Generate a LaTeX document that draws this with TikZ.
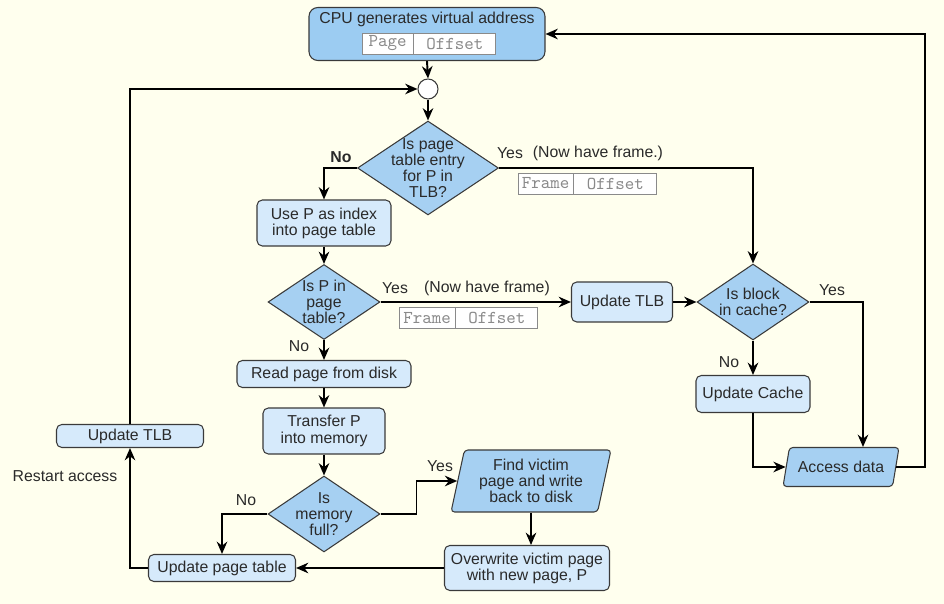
\documentclass[tikz,border=0pt]{standalone}
\usepackage{fontspec}
\setmainfont{Liberation Sans}
\usepackage{tikz}
\usetikzlibrary{calc,positioning,arrows.meta,shapes,backgrounds}
\definecolor{bgcream}{HTML}{FFFFEE}
\definecolor{boxblue}{HTML}{D6EAFB}
\definecolor{decblue}{HTML}{A6D0F2}
\definecolor{cpublue}{HTML}{9CCCF2}
\definecolor{linegray}{HTML}{3A3A3A}
\definecolor{fieldgray}{HTML}{8A8A8A}
\definecolor{txtgray}{HTML}{2A2A2A}

\begin{document}
\begin{tikzpicture}[x=0.02cm,y=-0.02cm,font=\fontsize{9}{9.2}\selectfont]
\tikzstyle{proc}=[rectangle, rounded corners=3pt, draw=linegray, fill=boxblue, align=center, inner sep=0pt, line width=0.6pt, text=txtgray]
\tikzstyle{dec}=[diamond, draw=linegray, fill=decblue, align=center, inner sep=-6pt, line width=0.6pt, text=txtgray]
\tikzstyle{io}=[trapezium, trapezium stretches body, draw=linegray, fill=decblue, align=center, rounded corners=2pt, inner sep=0pt, line width=0.6pt, text=txtgray]
\tikzstyle{fld}=[rectangle, draw=fieldgray, fill=white, font=\ttfamily\fontsize{10.3}{10.3}\selectfont, text=fieldgray, inner sep=0pt, minimum height=0.42cm, line width=0.5pt]
\tikzstyle{arr}=[-{Stealth[length=7pt,width=6pt]}, line width=1.1pt]
\tikzstyle{lbl}=[inner sep=0pt, text=txtgray]

% background and page size
\fill[bgcream] (0,0) rectangle (944,604);
\useasboundingbox (0,0) rectangle (944,604);

% virtual address
\node[proc, fill=cpublue, rounded corners=5pt, minimum width=4.72cm, minimum height=1.06cm] (cpu) at (427,34) {};
\node[lbl] (cputxt) at (427,19) {CPU generates virtual address};
\node[fld, minimum width=1.02cm] (vpage) at (387.5,43.5) {Page};
\node[fld, minimum width=1.64cm, right=0pt of vpage] (voff) {Offset};

\node[circle, draw=linegray, fill=white, line width=0.6pt, minimum size=0.4cm, inner sep=0pt] (join) at (428,89) {};

% TLB lookup
\node[dec, minimum width=2.82cm, minimum height=1.88cm] (tlbq) at (428,168) {Is page\\table entry\\for P in\\TLB?};
\node[fld, minimum width=1.1cm] (tframe) at (545.5,183.5) {Frame};
\node[fld, minimum width=1.66cm, right=0pt of tframe] (toff) {Offset};

\node[proc, minimum width=2.68cm, minimum height=0.92cm] (usep) at (324,223) {Use P as index\\into page table};
\node[dec, minimum width=2.24cm, minimum height=1.5cm] (ptq) at (324,302) {Is P in\\page\\table?};
\node[fld, minimum width=1.12cm] (pframe) at (427,318) {Frame};
\node[fld, minimum width=1.64cm, right=0pt of pframe] (poff) {Offset};

\node[proc, minimum width=3.48cm, minimum height=0.54cm] (readdisk) at (324,374) {Read page from disk};
\node[proc, minimum width=2.44cm, minimum height=0.92cm] (xfer) at (324,431) {Transfer P\\into memory};
\node[dec, minimum width=2.24cm, minimum height=1.52cm] (memq) at (324,514) {Is\\memory\\full?};

\node[io, trapezium left angle=73, trapezium right angle=107, minimum width=3.2cm, minimum height=1.24cm] (victim) at (531,481) {Find victim\\page and write\\back to disk};
\node[proc, minimum width=3.3cm, minimum height=0.9cm] (overw) at (527,568) {Overwrite victim page\\with new page, P};
\node[proc, minimum width=2.94cm, minimum height=0.54cm] (updpt) at (222,568) {Update page table};
\node[proc, minimum width=2.94cm, minimum height=0.46cm] (pgtlb) at (130,436) {Update TLB};

% cache side
\node[proc, minimum width=2.02cm, minimum height=0.8cm] (updtlb) at (622,302) {Update TLB};
\node[dec, minimum width=2.24cm, minimum height=1.52cm] (cacheq) at (753,302) {Is block\\in cache?};
\node[proc, minimum width=2.28cm, minimum height=0.74cm] (updcache) at (753,394) {Update Cache};
\node[io, trapezium left angle=61, trapezium right angle=119, minimum width=2.32cm, minimum height=0.78cm] (access) at (841,467) {Access data};

% labels
\node[lbl, font=\bfseries\fontsize{9}{9}\selectfont] (no1) at (341,157) {No};
\node[lbl] (yes1) at (510,153) {Yes};
\node[lbl] (frame1) at (598,153) {(Now have frame.)};
\node[lbl] (yes2) at (395,288) {Yes};
\node[lbl] (frame2) at (487,288) {(Now have frame)};
\node[lbl] (no2) at (299,346) {No};
\node[lbl] (no3) at (246,500) {No};
\node[lbl] (yes3) at (440,466) {Yes};
\node[lbl] (yes4) at (832,290) {Yes};
\node[lbl] (no4) at (729,362) {No};
\node[lbl] (restart) at (65,476) {Restart access};

% connectors
\draw[arr] (cpu.south) -- (join.north);
\draw[arr] (join.south) -- (tlbq.north);
\draw[arr] (tlbq.west) -| (usep.north);
\draw[arr] (tlbq.east) -| (cacheq.north);
\draw[arr] (usep.south) -- (ptq.north);
\draw[arr] (ptq.east) -- (updtlb.west);
\draw[arr] (ptq.south) -- (readdisk.north);
\draw[arr] (readdisk.south) -- (xfer.north);
\draw[arr] (xfer.south) -- (memq.north);
\draw[arr] (memq.west) -| (updpt.north);
\draw[arr] (memq.east) -- ++(36,0) |- (victim.west);
\draw[arr] (victim.south) -- (victim.south |- overw.north);
\draw[arr] (overw.west) -- (updpt.east);
\draw[arr] (updpt.west) -| (pgtlb.south);
\draw[arr] (pgtlb.north) |- (join.west);
\draw[arr] (updtlb.east) -- (cacheq.west);
\draw[arr] (cacheq.east) -| ([xshift=0.44cm]access.north);
\draw[arr] (cacheq.south) -- (updcache.north);
\draw[arr] (updcache.south) |- (access.west);
\draw[arr] (access.east) -- ++(29,0) |- (cpu.east);
\end{tikzpicture}
\end{document}
